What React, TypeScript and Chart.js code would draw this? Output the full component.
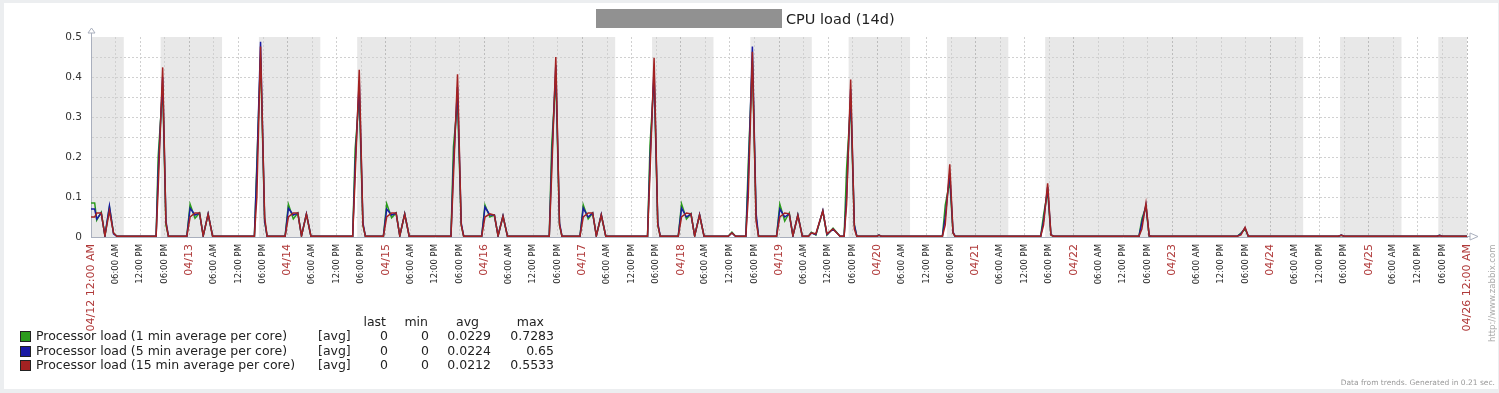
import React, { useEffect, useRef } from 'react';
import { Chart, registerables } from 'chart.js';

Chart.register(...registerables);

const FONT = '"DejaVu Sans", sans-serif';

// ---- data (hours from 04/12 00:00, value) ----
const LOAD_1MIN: [number, number][] = [
  [0, .085], [0.9, .085], [1.4, .042], [2.5, .062], [3.4, .003], [4.5, .075], [5.5, .01], [6.3, .002],
  [15.9, .002], [16.4, .2], [17.5, .375], [18.3, .03], [18.9, .002],
  [23.4, .002], [24.2, .082], [25.4, .047], [26.5, .06], [27.4, .003], [28.6, .057], [29.7, .002],
  [39.9, .002], [40.5, .185], [41.4, .45], [42.4, .04], [43, .002],
  [47.4, .002], [48.2, .082], [49.4, .045], [50.5, .06], [51.4, .003], [52.6, .057], [53.7, .002],
  [63.9, .002], [64.5, .22], [65.5, .35], [66.4, .03], [67, .002],
  [71.4, .002], [72.2, .083], [73.4, .048], [74.5, .06], [75.4, .003], [76.6, .058], [77.7, .002],
  [87.9, .002], [88.5, .225], [89.5, .34], [90.4, .03], [91, .002],
  [95.4, .002], [96.2, .08], [97.4, .05], [98.5, .055], [99.4, .003], [100.6, .052], [101.7, .002],
  [111.9, .002], [112.5, .23], [113.5, .40], [114.4, .03], [115, .002],
  [119.4, .002], [120.2, .08], [121.4, .045], [122.5, .06], [123.4, .003], [124.6, .055], [125.7, .002],
  [135.9, .002], [136.5, .23], [137.5, .40], [138.4, .03], [139, .002],
  [143.4, .002], [144.2, .083], [145.4, .045], [146.5, .058], [147.4, .003], [148.6, .055], [149.7, .002],
  [155.6, .002], [156.5, .012], [157.4, .002],
  [159.9, .002], [160.5, .185], [161.5, .44], [162.4, .05], [163, .002],
  [167.4, .002], [168.2, .082], [169.4, .04], [170.5, .06], [171.4, .003], [172.6, .055], [173.7, .002],
  [175.2, .002], [175.9, .012], [177, .005], [178.7, .065], [179.7, .005], [181.2, .022], [182.9, .002],
  [183.9, .002], [184.5, .17], [185.5, .34], [186.4, .03], [187, .002],
  [191.9, .002], [192.4, .005], [193, .002],
  [207.9, .002], [208.6, .08], [209.7, .14], [210.5, .01], [211, .002],
  [231.9, .002], [232.6, .055], [233.6, .115], [234.4, .005], [235, .002],
  [255.9, .002], [256.6, .045], [257.6, .075], [258.4, .002],
  [279.9, .002], [280.8, .01], [281.8, .02], [282.6, .002],
  [304.6, .002], [305.3, .004], [306, .002],
  [328.6, .002], [329.3, .004], [330, .002],
  [336, .002],
];

const LOAD_5MIN: [number, number][] = [
  [0, .07], [0.9, .07], [1.4, .045], [2.5, .06], [3.4, .003], [4.5, .078], [5.5, .008], [6.3, .002],
  [15.9, .002], [16.4, .16], [17.5, .40], [18.3, .04], [18.9, .002],
  [23.4, .002], [24.2, .072], [25.4, .055], [26.5, .06], [27.4, .003], [28.6, .058], [29.7, .002],
  [39.9, .002], [40.5, .17], [41.4, .488], [42.4, .04], [43, .002],
  [47.4, .002], [48.2, .072], [49.4, .055], [50.5, .06], [51.4, .003], [52.6, .058], [53.7, .002],
  [63.9, .002], [64.5, .18], [65.5, .39], [66.4, .035], [67, .002],
  [71.4, .002], [72.2, .07], [73.4, .055], [74.5, .06], [75.4, .003], [76.6, .058], [77.7, .002],
  [87.9, .002], [88.5, .18], [89.5, .375], [90.4, .035], [91, .002],
  [95.4, .002], [96.2, .075], [97.4, .055], [98.5, .055], [99.4, .003], [100.6, .053], [101.7, .002],
  [111.9, .002], [112.5, .19], [113.5, .43], [114.4, .035], [115, .002],
  [119.4, .002], [120.2, .072], [121.4, .05], [122.5, .06], [123.4, .003], [124.6, .056], [125.7, .002],
  [135.9, .002], [136.5, .19], [137.5, .42], [138.4, .035], [139, .002],
  [143.4, .002], [144.2, .072], [145.4, .05], [146.5, .058], [147.4, .003], [148.6, .056], [149.7, .002],
  [155.6, .002], [156.5, .01], [157.4, .002],
  [159.9, .002], [160.5, .15], [161.5, .476], [162.4, .06], [163, .002],
  [167.4, .002], [168.2, .07], [169.4, .05], [170.5, .058], [171.4, .003], [172.6, .055], [173.7, .002],
  [175.2, .002], [175.9, .01], [177, .006], [178.7, .066], [179.7, .006], [181.2, .02], [182.9, .002],
  [183.9, .002], [184.5, .1], [185.5, .37], [186.4, .03], [187, .002],
  [191.9, .002], [192.4, .005], [193, .002],
  [207.9, .002], [208.6, .05], [209.7, .16], [210.5, .012], [211, .002],
  [231.9, .002], [232.6, .04], [233.6, .125], [234.4, .006], [235, .002],
  [255.9, .002], [256.6, .035], [257.6, .08], [258.4, .003], [259, .002],
  [279.9, .002], [280.8, .008], [281.8, .023], [282.6, .002],
  [304.6, .002], [305.3, .005], [306, .002],
  [328.6, .002], [329.3, .004], [330, .002],
  [336, .002],
];

const LOAD_15MIN: [number, number][] = [
  [0, .05], [0.9, .05], [1.4, .06], [2.5, .06], [3.4, .003], [4.5, .065], [5.5, .01], [6.3, .002],
  [15.9, .002], [16.4, .12], [17.5, .424], [18.3, .035], [18.9, .002],
  [23.4, .002], [24.2, .05], [25.4, .06], [26.5, .06], [27.4, .003], [28.6, .057], [29.7, .002],
  [39.9, .002], [40.5, .1], [41.4, .476], [42.4, .05], [43, .002],
  [47.4, .002], [48.2, .05], [49.4, .06], [50.5, .06], [51.4, .003], [52.6, .057], [53.7, .002],
  [63.9, .002], [64.5, .15], [65.5, .418], [66.4, .03], [67, .002],
  [71.4, .002], [72.2, .05], [73.4, .06], [74.5, .06], [75.4, .003], [76.6, .057], [77.7, .002],
  [87.9, .002], [88.5, .15], [89.5, .407], [90.4, .03], [91, .002],
  [95.4, .002], [96.2, .05], [97.4, .058], [98.5, .055], [99.4, .003], [100.6, .052], [101.7, .002],
  [111.9, .002], [112.5, .16], [113.5, .45], [114.4, .03], [115, .002],
  [119.4, .002], [120.2, .05], [121.4, .06], [122.5, .06], [123.4, .003], [124.6, .055], [125.7, .002],
  [135.9, .002], [136.5, .16], [137.5, .448], [138.4, .03], [139, .002],
  [143.4, .002], [144.2, .05], [145.4, .06], [146.5, .058], [147.4, .003], [148.6, .055], [149.7, .002],
  [155.6, .002], [156.5, .01], [157.4, .002],
  [159.9, .002], [160.5, .1], [161.5, .463], [162.4, .04], [163, .002],
  [167.4, .002], [168.2, .05], [169.4, .06], [170.5, .058], [171.4, .003], [172.6, .054], [173.7, .002],
  [175.2, .002], [175.9, .01], [177, .008], [178.7, .065], [179.7, .008], [181.2, .02], [182.9, .002],
  [183.9, .002], [184.5, .08], [185.5, .394], [186.4, .02], [187, .002],
  [191.9, .002], [192.4, .004], [193, .002],
  [207.9, .002], [208.6, .03], [209.7, .182], [210.5, .01], [211, .002],
  [231.9, .002], [232.6, .03], [233.6, .134], [234.4, .005], [235, .002],
  [255.9, .002], [256.6, .02], [257.6, .084], [258.4, .003], [259, .002],
  [279.9, .002], [280.8, .005], [281.8, .024], [282.6, .002],
  [304.6, .002], [305.3, .004], [306, .002],
  [328.6, .002], [329.3, .003], [330, .002],
  [336, .002],
];

// working-time periods (hours from 04/12 00:00) drawn white; the rest is shaded
const WORK_PERIODS: [number, number][] = [
  [8, 17], [32, 41], [56, 65], [128, 137], [152, 161], [176, 185], [200, 209], [224, 233], [296, 305], [320, 329],
];

const X_TICK_LABELS = [
  '04/12 12:00 AM', '06:00 AM', '12:00 PM', '06:00 PM',
  '04/13', '06:00 AM', '12:00 PM', '06:00 PM',
  '04/14', '06:00 AM', '12:00 PM', '06:00 PM',
  '04/15', '06:00 AM', '12:00 PM', '06:00 PM',
  '04/16', '06:00 AM', '12:00 PM', '06:00 PM',
  '04/17', '06:00 AM', '12:00 PM', '06:00 PM',
  '04/18', '06:00 AM', '12:00 PM', '06:00 PM',
  '04/19', '06:00 AM', '12:00 PM', '06:00 PM',
  '04/20', '06:00 AM', '12:00 PM', '06:00 PM',
  '04/21', '06:00 AM', '12:00 PM', '06:00 PM',
  '04/22', '06:00 AM', '12:00 PM', '06:00 PM',
  '04/23', '06:00 AM', '12:00 PM', '06:00 PM',
  '04/24', '06:00 AM', '12:00 PM', '06:00 PM',
  '04/25', '06:00 AM', '12:00 PM', '06:00 PM',
  '04/26 12:00 AM',
];
const X_TICK_STEP_HOURS = 6;

const Y_TICKS = [0, 0.05, 0.1, 0.15, 0.2, 0.25, 0.3, 0.35, 0.4, 0.45, 0.5];
const Y_TICK_LABELS = ['0', '', '0.1', '', '0.2', '', '0.3', '', '0.4', '', '0.5'];

const LEGEND_NAMES = [
  'Processor load (1 min average per core)',
  'Processor load (5 min average per core)',
  'Processor load (15 min average per core)',
];
const LEGEND_LAST = ['0', '0', '0'];
const LEGEND_MIN = ['0', '0', '0'];
const LEGEND_AVG = ['0.0229', '0.0224', '0.0212'];
const LEGEND_MAX = ['0.7283', '0.65', '0.5533'];

const GREEN = '#2b9b1c';
const BLUE = '#1a1aa3';
const RED = '#a32222';
const NONWORK = '#e8e8e8';
const AXIS = '#a9afbd';
const DATE_RED = '#b03a3a';

const isDateTick = (label: string) => /^\d\d\/\d\d/.test(label);

const shadePlugin = {
  id: 'shade',
  beforeDraw(chart: any) {
    const { ctx, chartArea } = chart;
    const { left, right, top, bottom } = chartArea;
    const xs = chart.scales.x;
    ctx.save();
    ctx.fillStyle = NONWORK;
    ctx.fillRect(left, top, right - left, bottom - top);
    ctx.fillStyle = '#ffffff';
    WORK_PERIODS.forEach(([a, b]) => {
      const x1 = xs.getPixelForValue(a);
      const x2 = xs.getPixelForValue(b);
      ctx.fillRect(x1, top, x2 - x1, bottom - top);
    });
    ctx.restore();
  },
};

const arrowPlugin = {
  id: 'arrows',
  afterDraw(chart: any) {
    const { ctx, chartArea } = chart;
    const { left, right, top, bottom } = chartArea;
    const lx = Math.round(left) + 0.5;
    const by = Math.round(bottom) - 0.5;
    ctx.save();
    ctx.strokeStyle = AXIS;
    ctx.fillStyle = '#ffffff';
    ctx.lineWidth = 1;
    // y axis arrow
    ctx.beginPath();
    ctx.moveTo(lx, top);
    ctx.lineTo(lx, top - 4);
    ctx.stroke();
    ctx.beginPath();
    ctx.moveTo(lx - 3.5, top - 4);
    ctx.lineTo(lx, top - 9);
    ctx.lineTo(lx + 3.5, top - 4);
    ctx.closePath();
    ctx.fill();
    ctx.stroke();
    // x axis arrow
    ctx.beginPath();
    ctx.moveTo(right, by);
    ctx.lineTo(right + 3, by);
    ctx.stroke();
    ctx.beginPath();
    ctx.moveTo(right + 3, by - 3.5);
    ctx.lineTo(right + 11, by);
    ctx.lineTo(right + 3, by + 3.5);
    ctx.closePath();
    ctx.fill();
    ctx.stroke();
    ctx.restore();
  },
};

const toPoints = (arr: [number, number][]) => arr.map(([x, y]) => ({ x, y }));

export default function App() {
  const canvasRef = useRef<HTMLCanvasElement>(null);

  useEffect(() => {
    const canvas = canvasRef.current;
    if (!canvas) return;
    const chart = new Chart(canvas, {
      type: 'line',
      data: {
        datasets: [
          { label: LEGEND_NAMES[2], data: toPoints(LOAD_15MIN), borderColor: RED, order: 0 },
          { label: LEGEND_NAMES[1], data: toPoints(LOAD_5MIN), borderColor: BLUE, order: 1 },
          { label: LEGEND_NAMES[0], data: toPoints(LOAD_1MIN), borderColor: GREEN, order: 2 },
        ],
      },
      options: {
        responsive: false,
        animation: false,
        events: [],
        layout: { padding: { top: 37, right: 32, left: 0, bottom: 0 } },
        plugins: {
          legend: { display: false },
          tooltip: { enabled: false },
          title: { display: false },
        },
        elements: {
          point: { radius: 0 },
          line: { borderWidth: 1.5, tension: 0, fill: false },
        },
        scales: {
          x: {
            type: 'linear',
            min: 0,
            max: (X_TICK_LABELS.length - 1) * X_TICK_STEP_HOURS,
            afterFit: (s: any) => { s.height = 156; },
            afterBuildTicks: (s: any) => {
              s.ticks = X_TICK_LABELS.map((_, i) => ({ value: i * X_TICK_STEP_HOURS }));
            },
            ticks: {
              autoSkip: false,
              minRotation: 90,
              maxRotation: 90,
              padding: 7,
              callback: (_v: any, i: number) => X_TICK_LABELS[i],
              color: (ctx: any) => (isDateTick(X_TICK_LABELS[ctx.index] || '') ? DATE_RED : '#222222'),
              font: (ctx: any) => ({
                family: FONT,
                size: isDateTick(X_TICK_LABELS[ctx.index] || '') ? 11 : 8.5,
              }),
            },
            grid: {
              drawTicks: false,
              lineWidth: 1,
              color: (ctx: any) => {
                const lab = X_TICK_LABELS[ctx.index] || '';
                return isDateTick(lab) ? '#bcbcbc' : '#d0d0d0';
              },
            },
            border: { color: AXIS, width: 1, dash: [2, 2] },
          },
          y: {
            min: 0,
            max: 0.5,
            afterFit: (s: any) => { s.width = 91; },
            afterBuildTicks: (s: any) => {
              s.ticks = Y_TICKS.map((v) => ({ value: v }));
            },
            ticks: {
              autoSkip: false,
              padding: 9,
              color: '#333333',
              font: { family: FONT, size: 10.5 },
              callback: (_v: any, i: number) => Y_TICK_LABELS[i],
            },
            grid: {
              drawTicks: false,
              lineWidth: 1,
              color: (ctx: any) => (ctx.index === Y_TICKS.length - 1 ? 'rgba(0,0,0,0)' : '#d0d0d0'),
            },
            border: { color: AXIS, width: 1, dash: [2, 2] },
          },
        },
      },
      plugins: [shadePlugin, arrowPlugin],
    } as any);
    return () => chart.destroy();
  }, []);

  const swatch = [GREEN, BLUE, RED];
  const rowTop = [329, 343.5, 358];
  const txt: React.CSSProperties = {
    position: 'absolute',
    fontFamily: FONT,
    fontSize: '12.5px',
    lineHeight: '14.5px',
    color: '#222',
    whiteSpace: 'nowrap',
  };
  const right = (r: number): React.CSSProperties => ({ ...txt, right: 1499 - r, textAlign: 'right' });

  return (
    <div style={{ position: 'absolute', left: 0, top: 0, width: 1499, height: 393, background: '#eceef0', overflow: 'hidden' }}>
      <div style={{ position: 'absolute', left: 4, top: 3, width: 1494, height: 386, background: '#ffffff' }} />
      <canvas ref={canvasRef} width={1499} height={393} style={{ position: 'absolute', left: 0, top: 0, width: 1499, height: 393, display: 'block' }} />
      {/* title */}
      <div style={{ position: 'absolute', left: 596, top: 9, width: 186, height: 19, background: '#919191' }} />
      <div style={{ position: 'absolute', left: 786, top: 11, fontFamily: FONT, fontSize: '14.5px', lineHeight: '17px', color: '#222', whiteSpace: 'nowrap' }}>CPU load (14d)</div>
      {/* legend header */}
      <div style={{ ...right(386), top: 314.5 }}>last</div>
      <div style={{ ...right(428), top: 314.5 }}>min</div>
      <div style={{ ...right(479), top: 314.5 }}>avg</div>
      <div style={{ ...right(544), top: 314.5 }}>max</div>
      {LEGEND_NAMES.map((name, i) => (
        <React.Fragment key={name}>
          <div style={{ position: 'absolute', left: 20, top: rowTop[i] + 2, width: 9, height: 9, background: swatch[i], border: '1px solid #222' }} />
          <div style={{ ...txt, left: 36, top: rowTop[i] }}>{name}</div>
          <div style={{ ...txt, left: 318, top: rowTop[i] }}>[avg]</div>
          <div style={{ ...right(388), top: rowTop[i] }}>{LEGEND_LAST[i]}</div>
          <div style={{ ...right(429), top: rowTop[i] }}>{LEGEND_MIN[i]}</div>
          <div style={{ ...right(491), top: rowTop[i] }}>{LEGEND_AVG[i]}</div>
          <div style={{ ...right(554), top: rowTop[i] }}>{LEGEND_MAX[i]}</div>
        </React.Fragment>
      ))}
      {/* side + footer */}
      <div style={{ position: 'absolute', left: 1488, top: 342, transformOrigin: '0 0', transform: 'rotate(-90deg)', fontFamily: FONT, fontSize: '8.5px', lineHeight: '9px', color: '#aaaaaa', whiteSpace: 'nowrap' }}>http://www.zabbix.com</div>
      <div style={{ position: 'absolute', right: 4, top: 378, fontFamily: FONT, fontSize: '7.5px', lineHeight: '9px', color: '#999999', whiteSpace: 'nowrap' }}>Data from trends. Generated in 0.21 sec.</div>
    </div>
  );
}
